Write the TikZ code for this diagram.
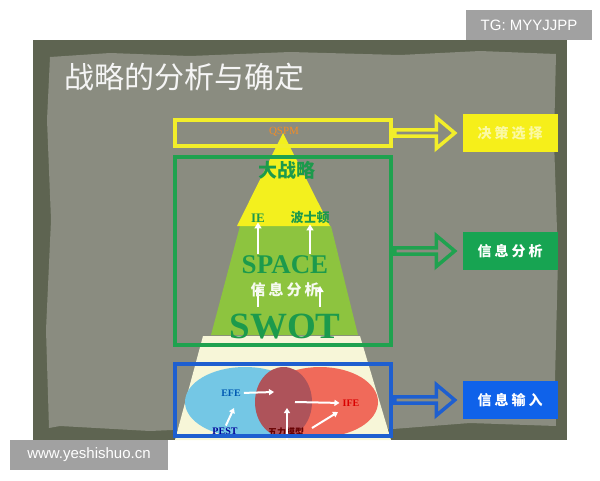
\documentclass[tikz,border=0pt]{standalone}
\usepackage{fontspec}
\setmainfont{Liberation Serif}
\newfontfamily\cjk{Noto Sans CJK SC}
\newfontfamily\wmfont{Liberation Sans}
\usetikzlibrary{positioning,shapes.arrows,arrows.meta}
\definecolor{frame}{HTML}{5E6451}
\definecolor{paper}{HTML}{8A8C80}
\definecolor{yline}{HTML}{F2EE2A}
\definecolor{ytag}{HTML}{F6EF1A}
\definecolor{tri}{HTML}{F3F01E}
\definecolor{gline}{HTML}{1FA24F}
\definecolor{gtag}{HTML}{17A452}
\definecolor{lgreen}{HTML}{8DC43F}
\definecolor{cream}{HTML}{F7F6D8}
\definecolor{bline}{HTML}{1E5FD0}
\definecolor{btag}{HTML}{0F62EA}
\definecolor{ellblue}{HTML}{74C7E5}
\definecolor{ellred}{HTML}{F06A5A}
\definecolor{elldark}{HTML}{AE535A}
\definecolor{tgreen}{HTML}{1C9A4C}
\tikzset{
  box/.style={draw, line width=4pt, minimum width=216pt, inner sep=0pt},
  barrow/.style={single arrow, draw, line width=3.5pt, minimum height=60pt,
    minimum width=31pt, single arrow head extend=7pt, single arrow tip angle=80,
    inner sep=0pt, anchor=tail},
  tag/.style={minimum width=95pt, minimum height=38pt, inner sep=0pt,
    font=\cjk\bfseries\fontsize{14}{14}\selectfont},
  wmark/.style={fill=black!37, text=white, inner sep=0pt,
    font=\wmfont\fontsize{15}{15}\selectfont},
  warr/.style={white, line width=2.2pt, -{Triangle[length=6pt,width=7pt]}},
  sarr/.style={white, line width=2pt, -{Triangle[length=5pt,width=6pt]}},
  lbl/.style={inner sep=0pt, font=\bfseries\fontsize{10}{10}\selectfont},
}
\begin{document}
\begin{tikzpicture}[x=1pt,y=-1pt]
\useasboundingbox (0,0) rectangle (600,480);
% photo frame and paper
\fill[frame] (33,40) rectangle (567,440);
\fill[paper] (50,57) -- (110,53) -- (190,56) -- (290,52) -- (400,55) -- (480,51)
  -- (556,54) -- (554,140) -- (558,260) -- (555,380) -- (556,426) -- (470,423)
  -- (380,430) -- (260,426) -- (150,431) -- (60,426) -- (49,428) -- (46,330)
  -- (51,220) -- (47,120) -- cycle;
\node[anchor=west, inner sep=0pt, text=white!92!gray,
  font=\cjk\fontsize{30}{31}\selectfont] (title) at (64,77) {战略的分析与确定};
% pyramid
\fill[cream] (203,336) -- (360,336) -- (391,440) -- (175,440) -- cycle;
\fill[lgreen] (240,226) -- (331,226) -- (358,335) -- (211,335) -- cycle;
\fill[tri] (283,133) -- (330,226) -- (237,226) -- cycle;
\fill[ellblue] (245,402) ellipse [x radius=60, y radius=35];
\fill[ellred] (320,402) ellipse [x radius=58, y radius=35];
\fill[elldark] (283.5,402) ellipse [x radius=28.5, y radius=35];
% top texts
\node[inner sep=0pt, text=orange!80!brown!90, font=\fontsize{11}{11}\selectfont] (qs) at (284,132) {QSPM};
\node[inner sep=0pt, text=tgreen, font=\cjk\bfseries\fontsize{19}{19}\selectfont] (ds) at (287,170) {大战略};
\node[lbl, text=tgreen, font=\bfseries\fontsize{13}{13}\selectfont] (ie) at (258,218) {IE};
\node[inner sep=0pt, text=tgreen, font=\cjk\bfseries\fontsize{13}{13}\selectfont] (bs) at (310,218) {波士顿};
% middle texts
\coordinate (m1) at (258,307);
\coordinate (m2) at (258,286);
\coordinate (m3) at (320,307);
\coordinate (m4) at (320,286);
\draw[warr] (m1) -- (m2);
\draw[warr] (m3) -- (m4);
\node[inner sep=0pt, text=tgreen, font=\bfseries\fontsize{27}{27}\selectfont] (sp) at (285,265) {SPACE};
\node[inner sep=0pt, text=white!92!lgreen, font=\cjk\bfseries\fontsize{15}{15}\selectfont] (xx) at (285,290) {信\hspace{3pt}息\hspace{3pt}分\hspace{3pt}析};
\node[inner sep=0pt, text=tgreen, font=\bfseries\fontsize{37}{37}\selectfont] (sw) at (285,327) {SWOT};
\draw[warr, shorten <=2pt] (ie |- sp.north) -- (ie.south);
\draw[warr, shorten <=2pt] (bs |- sp.north) -- (bs.south);
% venn texts
\node[lbl, text=blue!50!cyan!70!black] (efe) at (231,393) {EFE};
\node[lbl, text=blue!60!black] (pest) at (225,431) {PEST};
\node[lbl, text=red!85!black] (ife) at (351,403) {IFE};
\node[inner sep=0pt, text=red!40!black, font=\cjk\bfseries\fontsize{9}{9}\selectfont] (wl) at (286,432) {五力模型};
\coordinate (c1) at (274,392);
\coordinate (c2) at (295,402);
\coordinate (c3) at (287,440);
\coordinate (c4) at (287,408);
\coordinate (c5) at (312,428);
\coordinate (c6) at (338,412);
\draw[sarr, shorten <=3pt] (efe.east) -- (c1);
\draw[sarr, shorten >=3pt] (c2) -- (ife.west);
\draw[sarr, shorten <=2pt] (pest.north) -- (234,408);
\draw[sarr] (c3) -- (c4);
\draw[sarr] (c5) -- (c6);
% frames, block arrows and tags
\node[box, draw=yline, minimum height=26pt] (r1) at (283,133) {};
\node[box, draw=gline, minimum height=188pt] (r2) at (283,251) {};
\node[box, draw=bline, minimum height=72pt] (r3) at (283,400) {};
\node[barrow, draw=yline] (a1) at (r1.east) {};
\node[barrow, draw=gline] (a2) at (r2.east) {};
\node[barrow, draw=bline] (a3) at (r3.east) {};
\node[tag, fill=ytag, text=white!60!ytag, right=5pt of a1.tip] (t1) {决\hspace{3pt}策\hspace{3pt}选\hspace{3pt}择};
\node[tag, fill=gtag, text=white, right=5pt of a2.tip] (t2) {信\hspace{3pt}息\hspace{3pt}分\hspace{3pt}析};
\node[tag, fill=btag, text=white, right=5pt of a3.tip] (t3) {信\hspace{3pt}息\hspace{3pt}输\hspace{3pt}入};
% watermarks
\node[wmark, minimum width=126pt, minimum height=30pt] (wm1) at (529,25) {TG: MYYJJPP};
\node[wmark, minimum width=158pt, minimum height=30pt] (wm2) at (89,455) {www.yeshishuo.cn};
\end{tikzpicture}
\end{document}
